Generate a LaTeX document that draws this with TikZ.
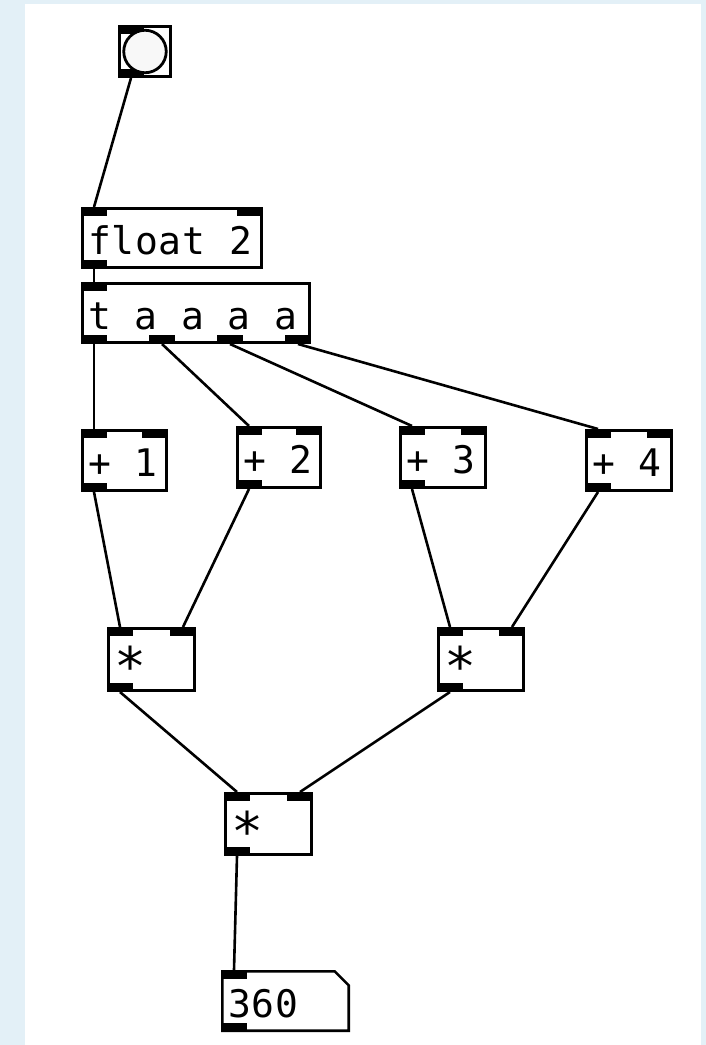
\documentclass[tikz,border=0pt]{standalone}
\usepackage{fontspec}
\newfontfamily\pdfont[LetterSpace=2]{DejaVu Sans Mono}
\usetikzlibrary{calc}
\definecolor{bgblue}{RGB}{227,240,247}
\definecolor{bangfill}{RGB}{248,248,248}
\tikzset{
  pdbox/.style={draw, line width=2.6pt, rectangle, inner sep=0pt, outer sep=0pt, anchor=north west, fill=white},
  pdtext/.style={font=\pdfont\fontsize{38pt}{40pt}\selectfont, anchor=base west, inner sep=0pt, outer sep=0pt},
  wire/.style={line width=2.6pt},
}
% name, x, y, w, h, text, number of inlets, number of outlets
\newcommand\pdobj[8]{%
  \node[pdbox, minimum width=#4pt-2.6pt, minimum height=#5pt-2.6pt] (#1) at (#2+1.3,#3+1.3) {};
  \foreach \k in {1,...,#7}{%
    \pgfmathsetmacro\tx{#2+(\k-1)*(#4-26)/max(#7-1,1)}%
    \fill (\tx,#3) rectangle ++(26,9);
    \coordinate (#1-i\k) at (\tx+13,#3);
  }
  \foreach \k in {1,...,#8}{%
    \pgfmathsetmacro\tx{#2+(\k-1)*(#4-26)/max(#8-1,1)}%
    \fill (\tx,#3+#5) rectangle ++(26,-9);
    \coordinate (#1-o\k) at (\tx+13,#3+#5);
  }
  \node[pdtext] (#1-txt) at (#2+7,#3+47) {#6};
}
\newcommand\pdstar{\raisebox{-11pt}{\scalebox{1.4}{*}}}
\begin{document}
\begin{tikzpicture}[x=1pt,y=-1pt]
\fill[bgblue] (0,0) rectangle (706,1045);
\fill[white] (25,4) rectangle (701,1045);
\useasboundingbox (0,0) rectangle (706,1045);

% bang
\node[pdbox, minimum width=51.4pt, minimum height=50.4pt] (bang) at (119.3,26.3) {};
\fill (118,25) rectangle ++(26,9);
\fill (118,78) rectangle ++(26,-9);
\node[circle, draw, line width=2.8pt, fill=bangfill, minimum size=42.5pt, inner sep=0pt] (bangc) at (bang.center) {};
\coordinate (bang-o1) at (131,78);

\pdobj{float}{81}{207}{182}{62}{float 2}{2}{1}
\pdobj{trig}{81}{282}{230}{62}{t a a a a}{1}{4}
\pdobj{pa}{81}{429}{87}{63}{+ 1}{2}{1}
\pdobj{pb}{236}{426}{86}{63}{+ 2}{2}{1}
\pdobj{pc}{399}{426}{88}{63}{+ 3}{2}{1}
\pdobj{pd}{585}{429}{88}{63}{+ 4}{2}{1}
\pdobj{ma}{107}{627}{89}{65}{\pdstar}{2}{1}
\pdobj{mb}{437}{627}{88}{65}{\pdstar}{2}{1}
\pdobj{mc}{224}{792}{89}{64}{\pdstar}{2}{1}

% number box
\node[inner sep=0pt, outer sep=0pt, anchor=north west, minimum width=126.4pt, minimum height=59.4pt] (num) at (222.3,971.3) {};
\draw[line width=2.6pt, fill=white] (num.north west) -- ($(num.north east)+(-14,0)$) -- ($(num.north east)+(0,14)$) -- (num.south east) -- (num.south west) -- cycle;
\fill (221,970) rectangle ++(26,9);
\fill (221,1032) rectangle ++(26,-9);
\coordinate (num-i1) at (234,970);
\node[pdtext] (num-txt) at (228,1017) {360};

% wires
\draw[wire] (bang-o1) -- (float-i1);
\draw[wire] (float-o1) -- (trig-i1);
\draw[wire] (trig-o1) -- (pa-i1);
\draw[wire] (trig-o2) -- (pb-i1);
\draw[wire] (trig-o3) -- (pc-i1);
\draw[wire] (trig-o4) -- (pd-i1);
\draw[wire] (pa-o1) -- (ma-i1);
\draw[wire] (pb-o1) -- (ma-i2);
\draw[wire] (pc-o1) -- (mb-i1);
\draw[wire] (pd-o1) -- (mb-i2);
\draw[wire] (ma-o1) -- (mc-i1);
\draw[wire] (mb-o1) -- (mc-i2);
\draw[wire] (mc-o1) -- (num-i1);
\end{tikzpicture}
\end{document}
